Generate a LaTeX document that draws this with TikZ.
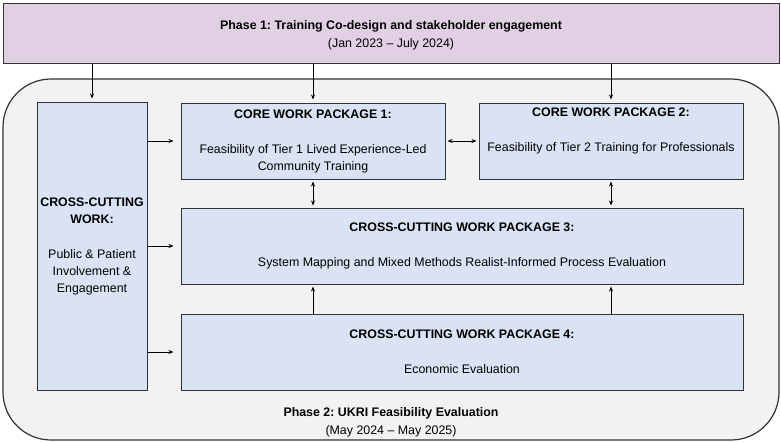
\documentclass[tikz,border=0pt]{standalone}
\usepackage{fontspec}
\setmainfont{Liberation Sans}
\frenchspacing
\usetikzlibrary{arrows.meta, positioning, calc}
\definecolor{phaseone}{HTML}{E1D0E4}
\definecolor{phasetwo}{HTML}{F2F2F2}
\definecolor{pkgblue}{HTML}{DAE3F3}
\definecolor{edgegray}{HTML}{333333}

\tikzset{
  pkgbox/.style={draw=edgegray, fill=pkgblue, line width=1pt, inner sep=0pt, align=center,
    font=\fontsize{12.4}{17}\selectfont},
  phasetext/.style={align=center, font=\fontsize{12.4}{18.5}\selectfont},
  arr/.style={-{Stealth[length=5pt,width=4pt]}, line width=0.8pt},
  biarr/.style={{Stealth[length=5pt,width=4pt]}-{Stealth[length=5pt,width=4pt]}, line width=0.8pt},
}

\begin{document}
\begin{tikzpicture}[x=1pt, y=-1pt]
\useasboundingbox (0,0) rectangle (781,442);

% the two phases
\node[draw=edgegray, fill=phaseone, line width=1pt, minimum width=776pt, minimum height=60pt,
  inner sep=0pt, phasetext] (phase1) at (391,33)
  {\rule{0pt}{14pt}\textbf{Phase 1: Training Co-design and stakeholder engagement}\\(Jan 2023 -- July 2024)};
\node[draw=edgegray, fill=phasetwo, line width=1.2pt, rounded corners=48pt,
  minimum width=776pt, minimum height=361pt, inner sep=0pt] (phase2) at (391,259.5) {};
\node[phasetext, above=0pt of phase2.south] (phase2title)
  {\textbf{Phase 2: UKRI Feasibility Evaluation}\\(May 2024 -- May 2025)};

% work packages
\node[pkgbox, minimum width=110pt, minimum height=288pt] (ppie) at (92,246)
  {\textbf{CROSS-CUTTING}\\\textbf{WORK:}\\[18pt]Public \& Patient\\Involvement \&\\Engagement};
\node[pkgbox, minimum width=264pt, minimum height=76pt] (wp1) at (313,141)
  {\textbf{CORE WORK PACKAGE 1:}\\[18pt]Feasibility of Tier 1 Lived Experience-Led\\Community Training};
\node[pkgbox, minimum width=264pt, minimum height=76pt] (wp2) at (611,141)
  {\textbf{CORE WORK PACKAGE 2:}\\[18pt]Feasibility of Tier 2 Training for Professionals\\\strut};
\node[pkgbox, minimum width=562pt, minimum height=76pt] (wp3) at (462,246)
  {\textbf{CROSS-CUTTING WORK PACKAGE 3:}\\[18pt]System Mapping and Mixed Methods Realist-Informed Process Evaluation};
\node[pkgbox, minimum width=562pt, minimum height=76pt] (wp4) at (462,352)
  {\textbf{CROSS-CUTTING WORK PACKAGE 4:}\\[18pt]Economic Evaluation};

% phase 1 feeds down
\foreach \pkg in {ppie, wp1, wp2}
  \draw[arr, shorten >=3pt] (phase1.south -| \pkg.north) -- (\pkg.north);

% links between packages
\foreach \pkg in {wp1, wp3, wp4}
  \draw[arr, shorten >=7pt] (ppie.east |- \pkg) -- (\pkg.west);
\draw[biarr, shorten >=2pt, shorten <=2pt] (wp1.east) -- (wp2.west);
\draw[biarr, shorten >=2pt, shorten <=2pt] (wp1.south) -- (wp1.south |- wp3.north);
\draw[biarr, shorten >=2pt, shorten <=2pt] (wp2.south) -- (wp2.south |- wp3.north);
\draw[arr, shorten >=2pt] (wp4.north -| wp1.south) -- (wp1.south |- wp3.south);
\draw[arr, shorten >=2pt] (wp4.north -| wp2.south) -- (wp2.south |- wp3.south);
\end{tikzpicture}
\end{document}
